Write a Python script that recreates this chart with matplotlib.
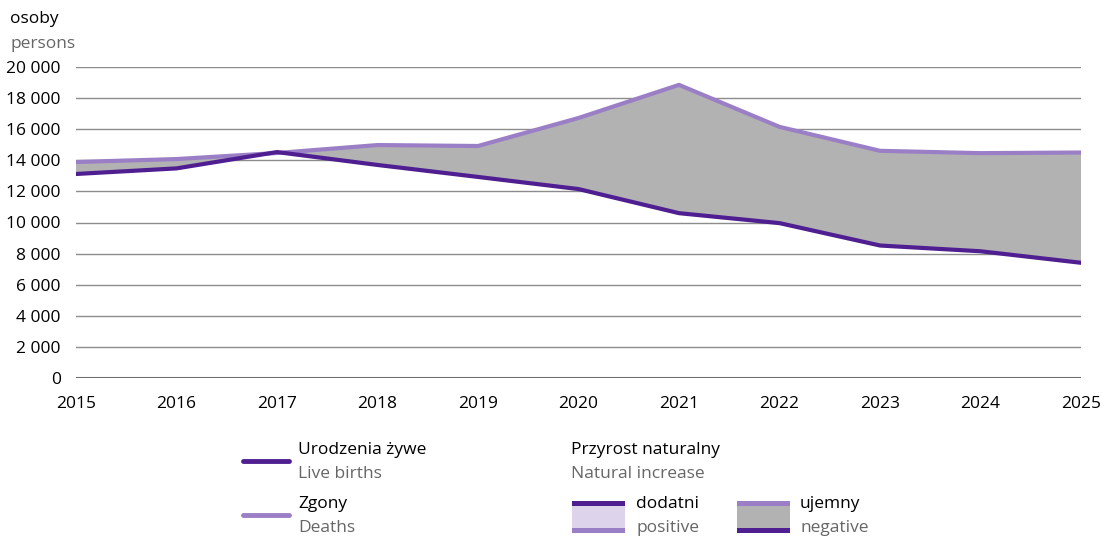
import numpy as np
import matplotlib.pyplot as plt
from matplotlib.lines import Line2D
from matplotlib.patches import Rectangle

lata = [2015, 2016, 2017, 2018, 2019, 2020, 2021, 2022, 2023, 2024, 2025]
urodzenia = [13120, 13480, 14530, 13700, 12930, 12150, 10600, 9960, 8520, 8150, 7410]
zgony = [13890, 14080, 14470, 14980, 14920, 16720, 18850, 16150, 14610, 14460, 14500]
yticks = [0, 2000, 4000, 6000, 8000, 10000, 12000, 14000, 16000, 18000, 20000]

c_ur = "#4f1f91"
c_zg = "#9b7fc6"
c_neg = "#b2b2b2"
c_poz = "#ddd3ea"
szary = "#666666"

plt.rcParams['font.family'] = ['Open Sans', 'DejaVu Sans']

W, H = 1102, 537
fig = plt.figure(figsize=(W/100, H/100), dpi=100)

def fx(px): return px / W
def fy(py): return 1 - py / H

ax = fig.add_axes([fx(76), fy(378), fx(1081) - fx(76), fy(67) - fy(378)])

x = np.array(lata)
u = np.array(urodzenia)
z = np.array(zgony)

ax.fill_between(x, u, z, where=z >= u, interpolate=True, color=c_neg, lw=0, zorder=1)
ax.fill_between(x, u, z, where=u >= z, interpolate=True, color=c_poz, lw=0, zorder=1)
ax.plot(x, z, color=c_zg, lw=3, solid_capstyle='round', zorder=3)
ax.plot(x, u, color=c_ur, lw=3, solid_capstyle='round', zorder=4)

ax.set_xlim(2015, 2025)
ax.set_ylim(0, 20000)
ax.set_xticks(lata)
ax.set_yticks(yticks)
ax.set_yticklabels([f"{v:,}".replace(",", " ") for v in yticks])
for v in yticks[1:]:
    ax.axhline(v, color="#8c8c8c", lw=1, zorder=0)
ax.axhline(0, color="#6e6e6e", lw=1.5, zorder=2)
for s in ax.spines.values():
    s.set_visible(False)
ax.tick_params(length=0, labelsize=12.5)
ax.tick_params(axis='x', pad=13)
ax.tick_params(axis='y', pad=11)

fig.text(fx(10), fy(19), "osoby", fontsize=12.5, va="center")
fig.text(fx(10), fy(44), "persons", fontsize=12.5, va="center", color=szary)

# legenda - linie
def linia(py, kolor):
    fig.add_artist(Line2D([fx(243), fx(289)], [fy(py), fy(py)], color=kolor, lw=3.5,
                          solid_capstyle='round', transform=fig.transFigure))

def napis(px, py, pl, en):
    fig.text(fx(px), fy(py), pl, fontsize=12.5, va="center")
    fig.text(fx(px), fy(py + 24), en, fontsize=12.5, va="center", color=szary)

linia(461, c_ur)
napis(298, 450, "Urodzenia żywe", "Live births")
linia(515, c_zg)
napis(298, 504, "Zgony", "Deaths")

napis(571, 450, "Przyrost naturalny", "Natural increase")

# legenda - pola
def pole(px, srodek, gora, dol):
    x0, x1 = fx(px), fx(px + 53)
    fig.add_artist(Rectangle((x0, fy(532)), x1 - x0, fy(502) - fy(532),
                             color=srodek, lw=0, transform=fig.transFigure))
    fig.add_artist(Rectangle((x0, fy(506)), x1 - x0, fy(501) - fy(506),
                             color=gora, lw=0, transform=fig.transFigure))
    fig.add_artist(Rectangle((x0, fy(533)), x1 - x0, fy(528) - fy(533),
                             color=dol, lw=0, transform=fig.transFigure))

pole(572, c_poz, c_ur, c_zg)
napis(636, 504, "dodatni", "positive")
pole(737, c_neg, c_zg, c_ur)
napis(800, 504, "ujemny", "negative")

fig.savefig("out.png", dpi=100)
